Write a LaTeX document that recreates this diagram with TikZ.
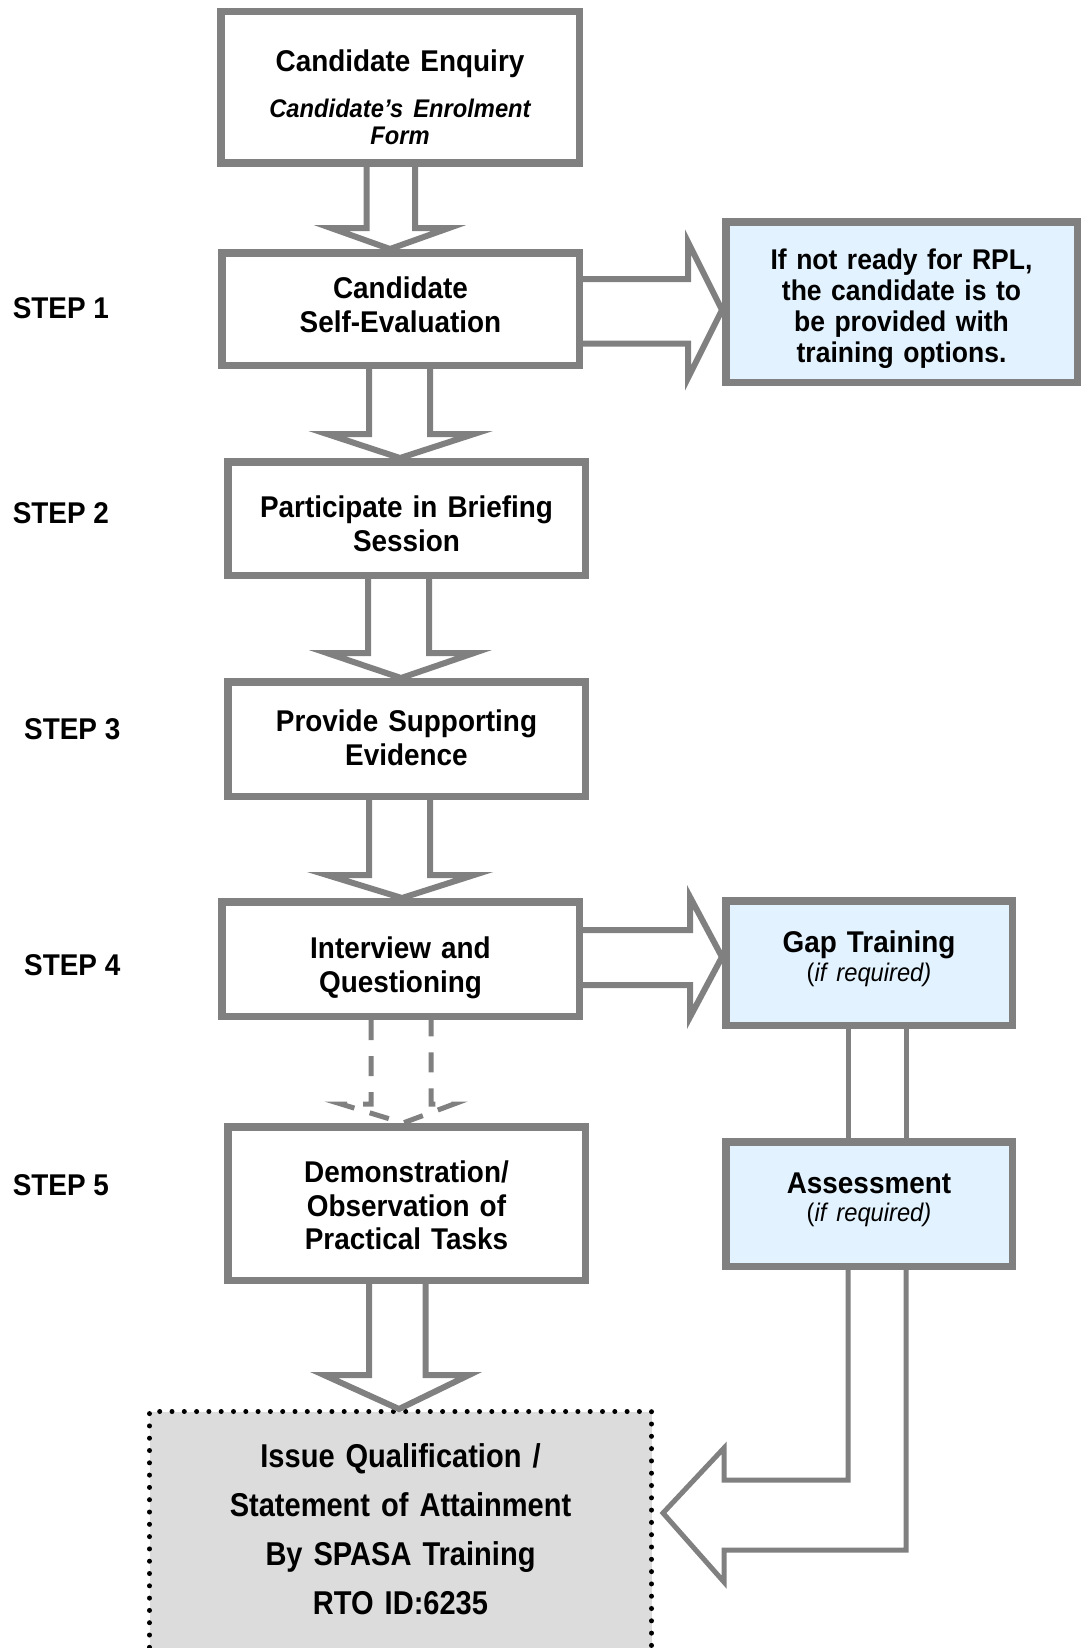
\documentclass[tikz,border=0pt]{standalone}
\usepackage{fontspec}
\setmainfont{Liberation Sans}[FakeStretch=0.93]
\newfontfamily\issuefont{Liberation Sans}[FakeStretch=0.88]
\usetikzlibrary{calc}
\definecolor{boxgray}{HTML}{808080}
\definecolor{paleblue}{HTML}{E2F2FE}
\definecolor{palegray}{HTML}{DCDCDC}
% vertical block arrow: from, to, shaft xl, shaft xr, head xl, head xr, head base y, tip x, extra style
\newcommand\blockdown[9]{%
  \draw[blockarrow,#9] let \p1=(#1.south), \p2=(#2.north) in
    (#3pt,\y1) -- (#3pt,-#7pt) -- (#5pt,-#7pt) -- (#8pt,\y2)
    -- (#6pt,-#7pt) -- (#4pt,-#7pt) -- (#4pt,\y1);}
% horizontal block arrow: from, to, shaft yt, shaft yb, head yt, head yb, head base x, tip y
\newcommand\blockright[8]{%
  \draw[blockarrow] let \p1=(#1.east), \p2=(#2.west) in
    (\x1,-#3pt) -- (#7pt,-#3pt) -- (#7pt,-#5pt) -- (\x2,-#8pt)
    -- (#7pt,-#6pt) -- (#7pt,-#4pt) -- (\x1,-#4pt);}
\begin{document}
\begin{tikzpicture}[x=1pt,y=-1pt,
  box/.style={draw=boxgray, line width=7.5pt, fill=white, inner sep=0pt,
    align=center, text width=345pt, minimum width=357.5pt,
    font=\bfseries\fontsize{30}{33.5}\selectfont},
  bluebox/.style={box, fill=paleblue},
  steplabel/.style={anchor=west, inner sep=0pt, font=\bfseries\fontsize{30}{33.5}\selectfont},
  blockarrow/.style={draw=boxgray, line width=6pt, line join=miter, line cap=butt},
  dashedarrow/.style={dash pattern=on 20pt off 16pt, line width=5pt},
  connline/.style={draw=boxgray, line width=5pt, line join=miter},
  issuebox/.style={fill=palegray, draw=black, line width=5pt, line cap=round,
    dash pattern=on 0pt off 12.3pt, inner sep=0pt, align=center, text width=490pt,
    font=\issuefont\bfseries\fontsize{33}{49}\selectfont}]
\fill[white] (0,0) rectangle (1081,1648);
\useasboundingbox (0,0) rectangle (1081,1648);
\clip (0,0) rectangle (1081,1648);

% main boxes
\node[box, minimum width=358.5pt, minimum height=151.5pt, text height=43pt, text depth=74.6pt]
  (enq) at (400,87.5)
  {{\fontsize{30}{30}\selectfont Candidate Enquiry\par}\vspace{19pt}%
   {\fontsize{25.5}{27}\selectfont\itshape Candidate’s Enrolment\\Form\par}};
\node[box, minimum height=112.5pt, text height=25pt, text depth=45.6pt]
  (selfev) at (400.5,309) {Candidate\\Self-Evaluation};
\node[box, minimum height=113.5pt, text height=33pt, text depth=34.6pt]
  (brief) at (406.5,518.5) {Participate in Briefing\\Session};
\node[box, minimum height=114.5pt, text height=25pt, text depth=39.6pt]
  (evid) at (406.5,739) {Provide Supporting\\Evidence};
\node[box, minimum height=114.5pt, text height=34pt, text depth=34.6pt]
  (interv) at (400.5,959) {Interview and\\Questioning};
\node[box, minimum height=153.5pt, text height=27pt, text depth=68.6pt]
  (demo) at (406.5,1203.5) {Demonstration/\\Observation of\\Practical Tasks};

% side boxes
\node[bluebox, minimum width=351.5pt, minimum height=160.5pt, text width=340pt,
  text height=29pt, text depth=94.6pt, font=\bfseries\fontsize{28.5}{31}\selectfont]
  (rpl) at (901.5,302)
  {If not ready for RPL,\\the candidate is to\\be provided with\\training options.};
\node[bluebox, minimum width=286.5pt, minimum height=124.5pt, text width=280pt,
  text height=25pt, text depth=45.6pt]
  (gap) at (869,963)
  {Gap Training\\[-4.5pt]{\mdseries\fontsize{25.5}{29}\selectfont(\textit{if required)}}};
\node[bluebox, minimum width=286.5pt, minimum height=124.5pt, text width=280pt,
  text height=25pt, text depth=45.6pt]
  (assess) at (869,1204)
  {Assessment\\[-5.5pt]{\mdseries\fontsize{25.5}{29}\selectfont(\textit{if required)}}};

% final box
\node[issuebox, minimum width=502pt, minimum height=248.5pt, text height=30pt, text depth=165.9pt]
  (issue) at (400.5,1535.75)
  {Issue Qualification /\\Statement of Attainment\\By SPASA Training\\RTO ID:6235};

% step labels
\node[steplabel] (s1) at (12.6,308) {STEP 1};
\node[steplabel] (s2) at (12.6,513) {STEP 2};
\node[steplabel] (s3) at (24,729) {STEP 3};
\node[steplabel] (s4) at (24,965) {STEP 4};
\node[steplabel] (s5) at (12.6,1185) {STEP 5};

% vertical block arrows
\blockdown{enq}{selfev}{366.5}{415}{331}{449}{228}{390}{}
\blockdown{selfev}{brief}{369}{430}{327}{474}{434}{400}{}
\blockdown{brief}{evid}{368}{429}{327}{474}{653}{401}{}
\blockdown{evid}{interv}{369}{430}{327}{474}{875}{402}{}
\blockdown{interv}{demo}{371}{431}{341}{454}{1104}{403}{dashedarrow}
\blockdown{demo}{issue}{369}{425.5}{324}{469}{1375}{399}{}

% horizontal block arrows
\blockright{selfev}{rpl}{279}{343.5}{242}{378}{688}{310}
\blockright{interv}{gap}{930}{985}{897}{1017}{690}{957}

% gap training to assessment
\draw[connline] let \p1=(gap.south), \p2=(assess.north) in
  (848pt,\y1) -- (848pt,\y2) (906pt,\y1) -- (906pt,\y2);

% assessment to issue (bent block arrow)
\draw[connline] let \p1=(assess.south), \p2=(issue.east) in
  (848pt,\y1) -- (848pt,-1480pt) -- (724pt,-1480pt) -- (724pt,-1448pt)
  -- (\x2+9pt,-1513pt) -- (724pt,-1582pt) -- (724pt,-1550pt)
  -- (906pt,-1550pt) -- (906pt,\y1);
\end{tikzpicture}
\end{document}
